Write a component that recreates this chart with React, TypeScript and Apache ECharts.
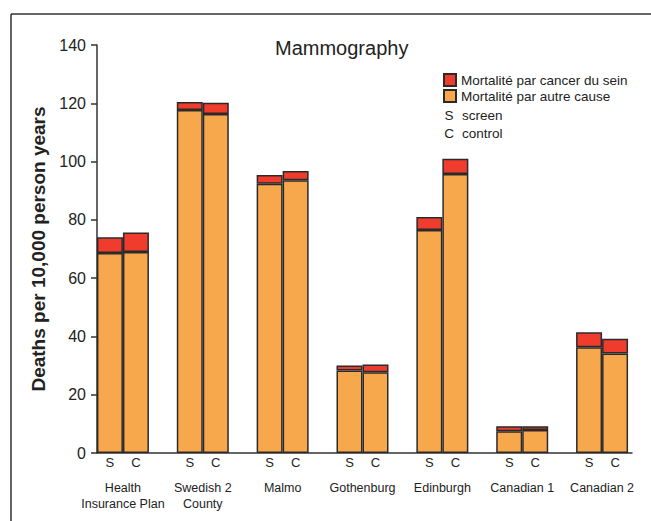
import React, { useEffect, useRef } from "react";
import * as echarts from "echarts";

const categories = [
  "Health\nInsurance Plan",
  "Swedish 2\nCounty",
  "Malmo",
  "Gothenburg",
  "Edinburgh",
  "Canadian 1",
  "Canadian 2",
];
const screenOther = [68.6, 117.7, 92.4, 28.3, 76.5, 7.5, 36.3];
const screenCancer = [5.4, 2.7, 3.0, 1.7, 4.5, 1.7, 5.1];
const controlOther = [69.0, 116.3, 93.6, 27.7, 95.7, 7.9, 34.1];
const controlCancer = [6.7, 3.9, 3.2, 2.7, 5.3, 1.3, 5.1];
const yTicks = { min: 0, max: 140, interval: 20 };

const CANCER = "Mortalité par cancer du sein";
const OTHER = "Mortalité par autre cause";
const FONT = '"Liberation Sans", Arial, sans-serif';
const ORANGE = "#F8A84C";
const RED = "#F03C2D";
const EDGE = "#2a2a2a";
const TXT = "#222";

export default function App() {
  const ref = useRef<HTMLDivElement>(null);
  useEffect(() => {
    if (!ref.current) return;
    const chart = echarts.init(ref.current, undefined, { renderer: "svg" });
    const barStyle = (c: string) => ({ color: c, borderColor: EDGE, borderWidth: 1.5 });
    const sideLabel = (t: string) => ({
      show: true,
      position: "bottom" as const,
      distance: 3,
      formatter: t,
      fontSize: 13,
      fontFamily: FONT,
      color: TXT,
    });
    chart.setOption({
      animation: false,
      textStyle: { fontFamily: FONT },
      title: {
        text: "Mammography",
        left: 275,
        top: 38,
        padding: 0,
        textStyle: { fontSize: 20, fontWeight: "normal", color: TXT, fontFamily: FONT },
      },
      legend: {
        orient: "vertical",
        left: 443,
        top: 73,
        icon: "rect",
        itemWidth: 12,
        itemHeight: 12,
        itemGap: 2,
        padding: 0,
        data: [CANCER, OTHER],
        textStyle: { fontSize: 13.5, color: TXT, fontFamily: FONT },
      },
      grid: [
        { left: 83, right: 9, top: 45, bottom: 68 },
        { left: 97, right: 19, top: 45, bottom: 68 },
      ],
      xAxis: [
        {
          type: "category",
          gridIndex: 0,
          data: categories,
          axisLine: { show: false },
          axisTick: { show: false },
          axisLabel: {
            margin: 27,
            fontSize: 12.5,
            lineHeight: 16,
            color: TXT,
            fontFamily: FONT,
            interval: 0,
          },
        },
        {
          type: "value",
          gridIndex: 1,
          min: 0,
          max: 1,
          axisLine: { show: true, lineStyle: { color: "#333", width: 1.5 } },
          axisTick: { show: false },
          axisLabel: { show: false },
          splitLine: { show: false },
        },
      ],
      yAxis: [
        { type: "value", gridIndex: 0, ...yTicks, show: false },
        {
          type: "value",
          gridIndex: 1,
          ...yTicks,
          name: "Deaths per 10,000 person years",
          nameLocation: "middle",
          nameGap: 46,
          nameTextStyle: { fontSize: 19, fontWeight: "bold", color: TXT, fontFamily: FONT },
          axisLine: { show: true, lineStyle: { color: "#333", width: 1.5 } },
          axisTick: { show: true, length: 6, lineStyle: { color: "#333", width: 1.5 } },
          axisLabel: { fontSize: 16, color: TXT, margin: 11, fontFamily: FONT },
          splitLine: { show: false },
        },
      ],
      series: [
        {
          name: OTHER,
          type: "bar",
          stack: "S",
          barWidth: 26,
          barGap: "0%",
          data: screenOther,
          itemStyle: barStyle(ORANGE),
          label: sideLabel("S"),
        },
        {
          name: CANCER,
          type: "bar",
          stack: "S",
          barWidth: 26,
          barGap: "0%",
          data: screenCancer,
          itemStyle: barStyle(RED),
        },
        {
          name: OTHER,
          type: "bar",
          stack: "C",
          barWidth: 26,
          barGap: "0%",
          data: controlOther,
          itemStyle: barStyle(ORANGE),
          label: sideLabel("C"),
        },
        {
          name: CANCER,
          type: "bar",
          stack: "C",
          barWidth: 26,
          barGap: "0%",
          data: controlCancer,
          itemStyle: barStyle(RED),
        },
      ],
      graphic: [
        { type: "line", shape: { x1: 11, y1: 14, x2: 651, y2: 14 }, style: { stroke: "#333", lineWidth: 1.5 } },
        { type: "line", shape: { x1: 11, y1: 14, x2: 11, y2: 521 }, style: { stroke: "#333", lineWidth: 1.5 } },
        { type: "text", x: 449, y: 115, style: { text: "S", fontSize: 13.5, fontFamily: FONT, fill: TXT, align: "center", verticalAlign: "middle" } },
        { type: "text", x: 462, y: 115, style: { text: "screen", fontSize: 13.5, fontFamily: FONT, fill: TXT, align: "left", verticalAlign: "middle" } },
        { type: "text", x: 449, y: 133, style: { text: "C", fontSize: 13.5, fontFamily: FONT, fill: TXT, align: "center", verticalAlign: "middle" } },
        { type: "text", x: 462, y: 133, style: { text: "control", fontSize: 13.5, fontFamily: FONT, fill: TXT, align: "left", verticalAlign: "middle" } },
      ],
    });
    return () => chart.dispose();
  }, []);
  return (
    <div
      ref={ref}
      style={{ position: "fixed", left: 0, top: 0, width: 651, height: 521, background: "#fff" }}
    />
  );
}
